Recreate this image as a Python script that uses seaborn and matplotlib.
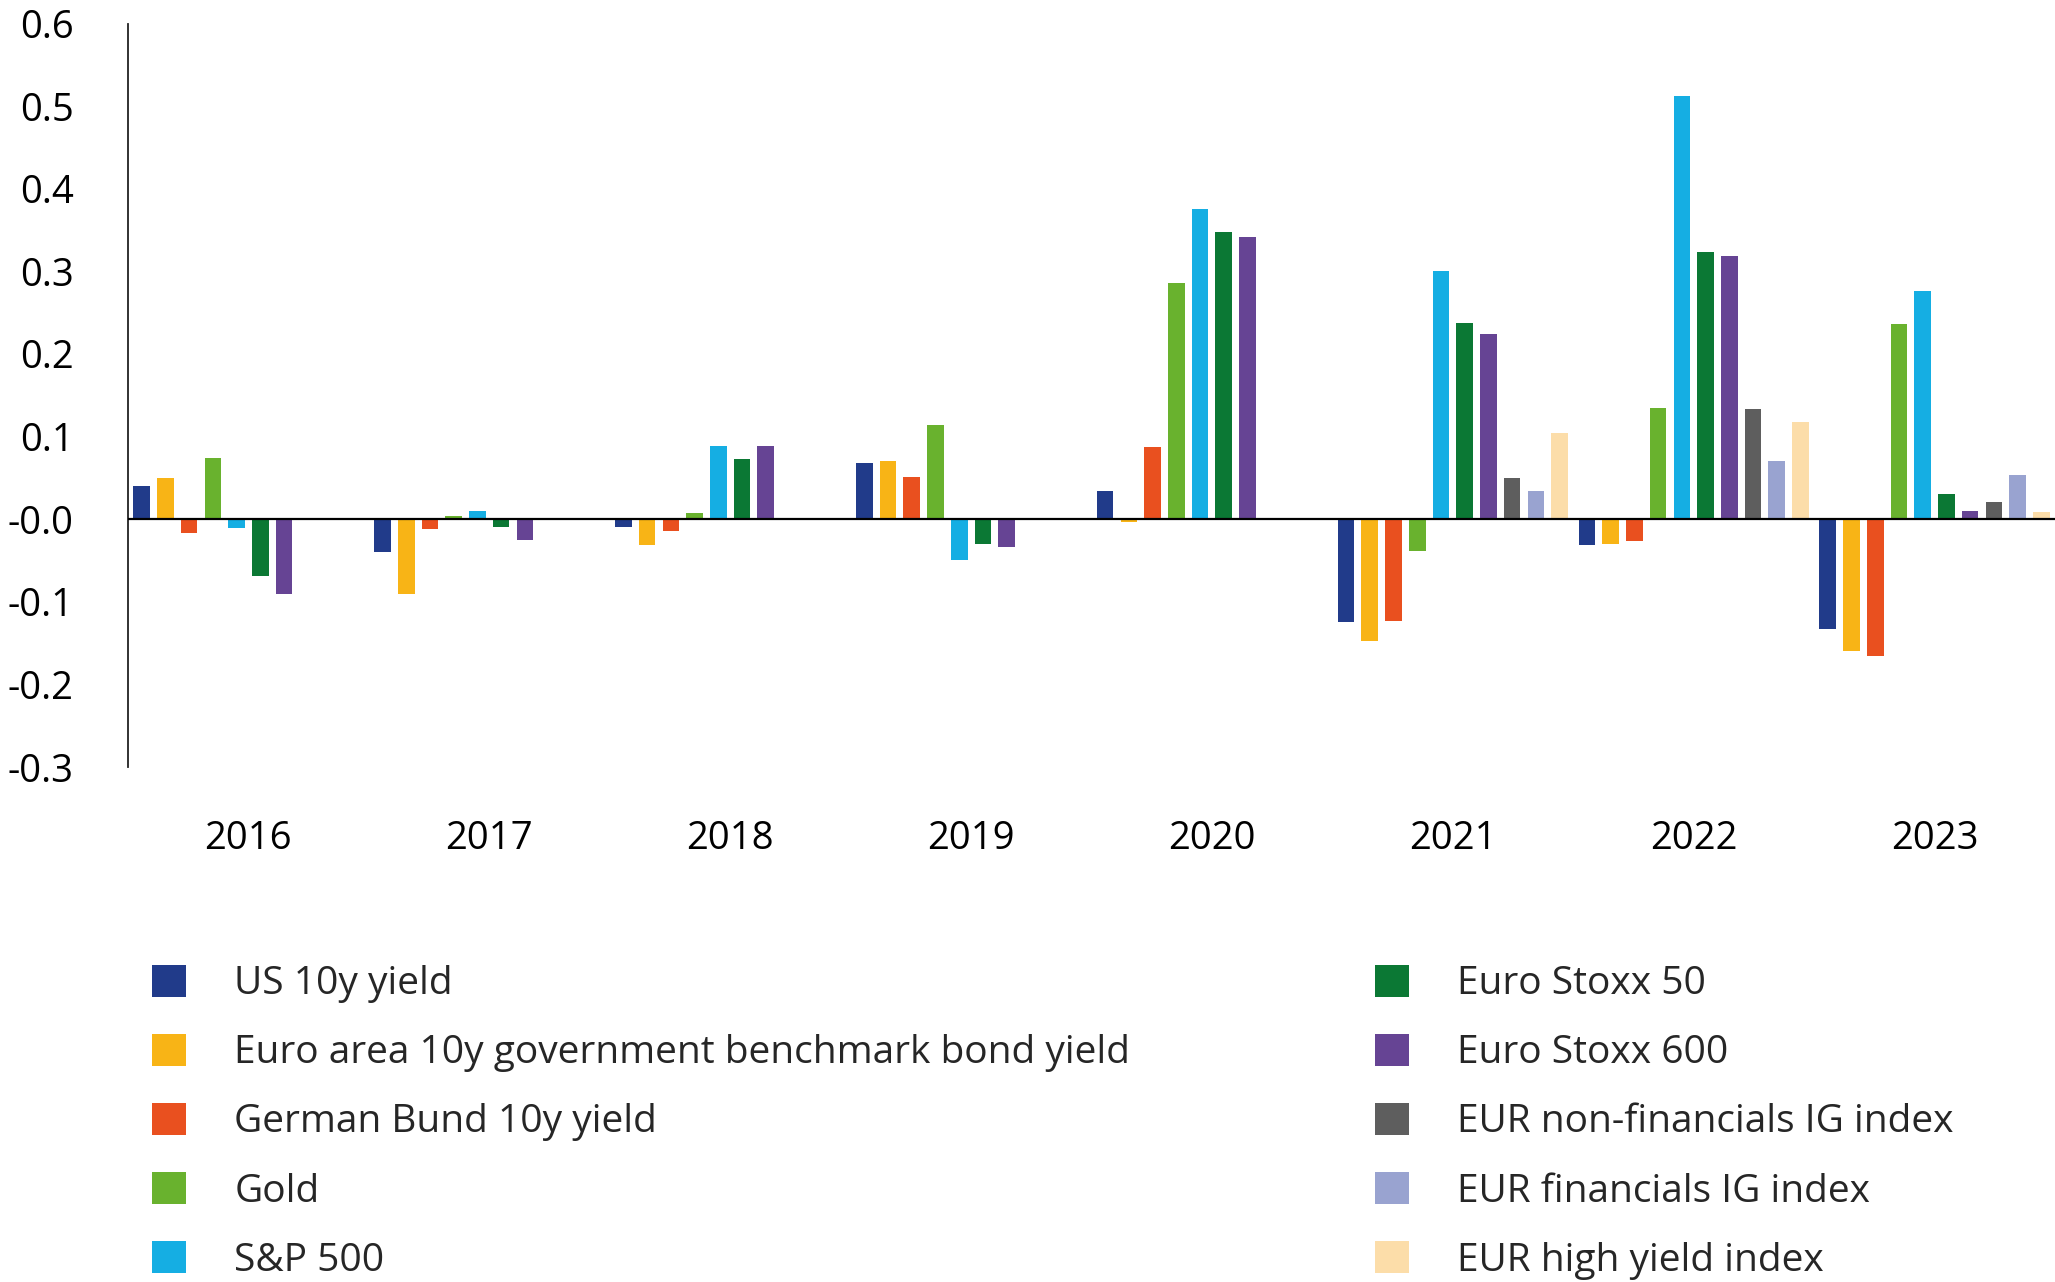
import numpy as np
import pandas as pd
import matplotlib
matplotlib.use("Agg")
import matplotlib.pyplot as plt
from matplotlib.patches import Patch
import seaborn as sns

# Annual changes by asset, 2016-2023
years = ["2016", "2017", "2018", "2019", "2020", "2021", "2022", "2023"]

us_10y = [0.040, -0.040, -0.009, 0.068, 0.034, -0.125, -0.031, -0.133]
euro_area_10y = [0.050, -0.090, -0.031, 0.070, -0.003, -0.147, -0.030, -0.159]
german_bund_10y = [-0.017, -0.012, -0.014, 0.051, 0.087, -0.123, -0.027, -0.166]
gold = [0.074, 0.004, 0.007, 0.114, 0.286, -0.038, 0.134, 0.236]
sp500 = [-0.011, 0.010, 0.088, -0.050, 0.376, 0.300, 0.512, 0.276]
euro_stoxx_50 = [-0.069, -0.010, 0.073, -0.030, 0.348, 0.237, 0.323, 0.030]
euro_stoxx_600 = [-0.090, -0.025, 0.088, -0.034, 0.342, 0.224, 0.319, 0.010]
eur_nonfin_ig = [np.nan, np.nan, np.nan, np.nan, np.nan, 0.050, 0.133, 0.021]
eur_fin_ig = [np.nan, np.nan, np.nan, np.nan, np.nan, 0.034, 0.071, 0.054]
eur_high_yield = [np.nan, np.nan, np.nan, np.nan, np.nan, 0.104, 0.118, 0.009]

series_names = [
    "US 10y yield",
    "Euro area 10y government benchmark bond yield",
    "German Bund 10y yield",
    "Gold",
    "S&P 500",
    "Euro Stoxx 50",
    "Euro Stoxx 600",
    "EUR non-financials IG index",
    "EUR financials IG index",
    "EUR high yield index",
]
series_values = [us_10y, euro_area_10y, german_bund_10y, gold, sp500,
                 euro_stoxx_50, euro_stoxx_600, eur_nonfin_ig, eur_fin_ig,
                 eur_high_yield]
colors = ["#213B8A", "#F8B416", "#E9501F", "#69B22E", "#15AEE3",
          "#0B7834", "#664494", "#5E5E5E", "#99A3D0", "#FCDDA9"]

y_ticks = [-0.3, -0.2, -0.1, 0.0, 0.1, 0.2, 0.3, 0.4, 0.5, 0.6]
y_tick_labels = ["-0.3", "-0.2", "-0.1", "-0.0", "0.1", "0.2", "0.3", "0.4", "0.5", "0.6"]

rows = []
for name, vals in zip(series_names, series_values):
    for yr, v in zip(years, vals):
        rows.append({"year": yr, "series": name, "value": v})
df = pd.DataFrame(rows)

sns.set_style("white")
plt.rcParams["font.family"] = ["Open Sans", "DejaVu Sans"]

W, H = 2055, 1282
fig = plt.figure(figsize=(W / 100, H / 100), dpi=100)
ax_left, ax_bottom, ax_top = 128 / W, 1 - 767 / H, 1 - 23.5 / H
ax = fig.add_axes([ax_left, ax_bottom, 1 - ax_left, ax_top - ax_bottom])

palette = dict(zip(series_names, colors))
sns.barplot(data=df, x="year", y="value", hue="series", order=years,
            hue_order=series_names, palette=palette, saturation=1,
            width=0.985, gap=0.3, errorbar=None, legend=False,
            linewidth=0, ax=ax)

ax.axhline(0, color="black", lw=1.6, zorder=5)
ax.set_xlim(-0.5, len(years) - 0.5)
ax.set_ylim(-0.3, 0.6)
ax.set_yticks(y_ticks)
ax.set_yticklabels(y_tick_labels)
ax.set_xlabel("")
ax.set_ylabel("")

for side in ["top", "right", "bottom"]:
    ax.spines[side].set_visible(False)
ax.spines["left"].set_color("#222222")
ax.spines["left"].set_linewidth(1.3)

ax.tick_params(axis="y", length=0, pad=39, labelsize=27.5, colors="black")
ax.tick_params(axis="x", length=0, pad=38, labelsize=27.5, colors="black")

handles = [Patch(facecolor=c, edgecolor="none") for c in colors]
legend_kw = dict(frameon=False, loc="upper left", fontsize=28,
                 handlelength=0.87, handleheight=0.87, handletextpad=1.25,
                 labelspacing=0.795, borderpad=0, borderaxespad=0)
fig.legend(handles[:5], series_names[:5],
           bbox_to_anchor=(152 / W, 1 - 965 / H), **legend_kw)
fig.legend(handles[5:], series_names[5:],
           bbox_to_anchor=(1375 / W, 1 - 965 / H), **legend_kw)

fig.savefig("out.png", dpi=100, facecolor="white")
